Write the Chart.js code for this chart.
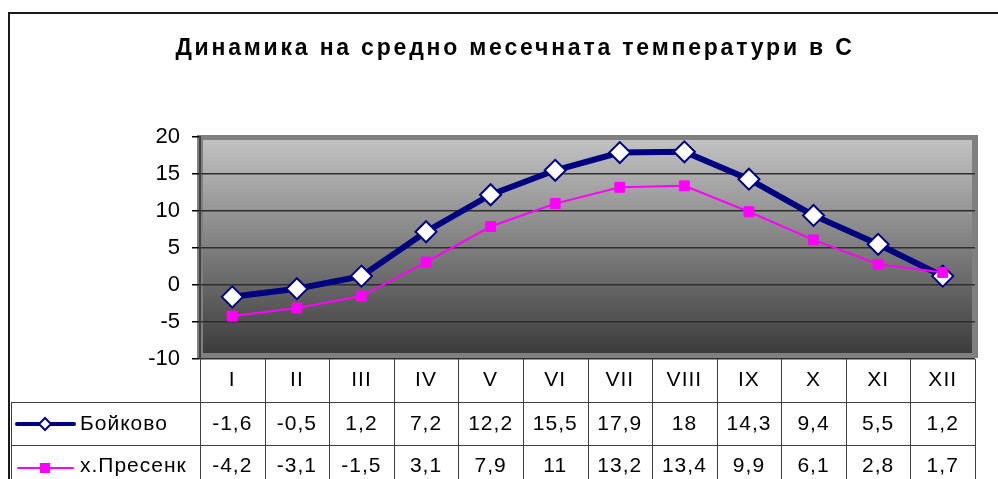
<!DOCTYPE html>
<html>
<head>
<meta charset="utf-8">
<script src="https://cdn.jsdelivr.net/npm/chart.js@4/dist/chart.umd.min.js"></script>
<style>
  html, body { margin: 0; padding: 0; background: #fff; }
</style>
</head>
<body>
<canvas id="myChart" width="998" height="479"></canvas>
<script>
const chartTitle = 'Динамика на средно месечната температури в С'
const months = ['I', 'II', 'III', 'IV', 'V', 'VI', 'VII', 'VIII', 'IX', 'X', 'XI', 'XII']
const seriesNames = ['Бойково', 'х.Пресенк']
const boykovo = [-1.6, -0.5, 1.2, 7.2, 12.2, 15.5, 17.9, 18, 14.3, 9.4, 5.5, 1.2]
const presenk = [-4.2, -3.1, -1.5, 3.1, 7.9, 11, 13.2, 13.4, 9.9, 6.1, 2.8, 1.7]
const yMin = -10
const yMax = 20
const yStep = 5

const FONT = '"Liberation Sans", Arial, sans-serif'
const NAVY = '#000080'
const PINK = '#ff00ff'

const fmt = v => String(v).replace('.', ',')

// фон, рамка на графиката и таблицата с данни
const frameAndTable = {
  id: 'frameAndTable',
  beforeDraw(chart) {
    const { ctx } = chart
    const { left, top, right, bottom } = chart.chartArea
    ctx.save()
    ctx.fillStyle = '#fff'
    ctx.fillRect(0, 0, chart.width, chart.height)

    // външна рамка
    ctx.strokeStyle = '#1a1a1a'
    ctx.lineWidth = 2
    ctx.beginPath()
    ctx.moveTo(9, chart.height)
    ctx.lineTo(9, 13)
    ctx.lineTo(chart.width, 13)
    ctx.stroke()

    // сива рамка на plot area
    ctx.fillStyle = '#808080'
    ctx.fillRect(left - 3, top - 2, right - left + 6, bottom - top + 1)
    const g = ctx.createLinearGradient(0, top + 3, 0, bottom - 6)
    g.addColorStop(0, '#c2c2c2')
    g.addColorStop(1, '#3c3c3c')
    ctx.fillStyle = g
    ctx.fillRect(left + 3, top + 3, right - left - 6, bottom - top - 9)
    ctx.restore()
  },
  afterDraw(chart) {
    const { ctx } = chart
    const { left, right, bottom } = chart.chartArea
    const x = chart.scales.x
    const bin = (right - left) / months.length
    const rowH = 43
    const headY = bottom
    const r1 = headY + rowH
    const r2 = r1 + rowH

    ctx.save()
    // заглавие
    ctx.fillStyle = '#000'
    ctx.font = 'bold 23px ' + FONT
    ctx.textAlign = 'center'
    ctx.textBaseline = 'middle'
    ctx.letterSpacing = '2.8px'
    ctx.fillText(chartTitle, 515, 49)

    // линии на таблицата
    ctx.letterSpacing = '0px'
    ctx.strokeStyle = '#404040'
    ctx.lineWidth = 1
    ctx.beginPath()
    ctx.moveTo(11, r1 + 0.5); ctx.lineTo(right, r1 + 0.5)
    ctx.moveTo(11, r2 + 0.5); ctx.lineTo(right, r2 + 0.5)
    ctx.moveTo(11.5, r1); ctx.lineTo(11.5, chart.height)
    for (let k = 0; k <= months.length; k++) {
      const xx = Math.round(left + k * bin) + 0.5
      ctx.moveTo(xx, headY); ctx.lineTo(xx, chart.height)
    }
    ctx.stroke()

    // текст
    ctx.font = '21px ' + FONT
    ctx.letterSpacing = '1px'
    ctx.fillStyle = '#000'
    ctx.textAlign = 'center'
    months.forEach((m, i) => {
      const cx = x.getPixelForValue(i)
      ctx.fillText(m, cx, headY + 21)
      ctx.fillText(fmt(boykovo[i]), cx, r1 + 22)
      ctx.fillText(fmt(presenk[i]), cx, r2 + 21)
    })
    ctx.textAlign = 'left'
    ctx.fillText(seriesNames[0], 80, r1 + 22)
    ctx.fillText(seriesNames[1], 80, r2 + 21)

    // легенда в таблицата
    const y1 = r1 + 22, y2 = r2 + 23
    ctx.lineCap = 'round'
    ctx.strokeStyle = NAVY
    ctx.lineWidth = 4
    ctx.beginPath(); ctx.moveTo(17, y1); ctx.lineTo(74, y1); ctx.stroke()
    ctx.lineWidth = 2
    ctx.fillStyle = '#fff'
    ctx.beginPath()
    ctx.moveTo(45, y1 - 6); ctx.lineTo(51, y1); ctx.lineTo(45, y1 + 6); ctx.lineTo(39, y1)
    ctx.closePath(); ctx.fill(); ctx.stroke()

    ctx.strokeStyle = PINK
    ctx.lineWidth = 2
    ctx.beginPath(); ctx.moveTo(18, y2); ctx.lineTo(73, y2); ctx.stroke()
    ctx.fillStyle = PINK
    ctx.fillRect(40, y2 - 5, 10, 10)
    ctx.restore()
  }
}

const data = {
  labels: months,
  datasets: [{
    label: seriesNames[0],
    data: boykovo,
    borderColor: NAVY,
    borderWidth: 6,
    pointStyle: 'rectRot',
    pointRadius: 10.5,
    pointBorderWidth: 2,
    pointBackgroundColor: '#fff',
    pointBorderColor: NAVY,
    tension: 0,
    order: 2,
  }, {
    label: seriesNames[1],
    data: presenk,
    borderColor: PINK,
    borderWidth: 2,
    pointStyle: 'rect',
    pointRadius: 7,
    pointBorderWidth: 1,
    pointBackgroundColor: PINK,
    pointBorderColor: PINK,
    tension: 0,
    order: 1,
  }]
}

const config = {
  type: 'line',
  data: data,
  plugins: [frameAndTable],
  options: {
    responsive: false,
    animation: false,
    devicePixelRatio: 1,
    layout: { padding: { left: 0, right: 23, top: 137, bottom: 120 } },
    scales: {
      x: { type: 'category', offset: true, display: false },
      y: {
        min: yMin,
        max: yMax,
        ticks: { stepSize: yStep, color: '#000', padding: 12, font: { family: FONT, size: 22 } },
        grid: {
          color: c => (c.tick && c.tick.value === yMax) ? 'rgba(0,0,0,0)' : '#2e2e2e',
          lineWidth: 1.5,
          tickLength: 8,
          tickColor: '#000',
        },
        border: { color: '#404040', width: 2 },
        afterFit: s => { s.width = 200 },
      }
    },
    plugins: {
      legend: { display: false },
      tooltip: { enabled: false },
      title: { display: false },
    }
  }
}

const myChart = new Chart(document.getElementById('myChart').getContext('2d'), config)
</script>
</body>
</html>
